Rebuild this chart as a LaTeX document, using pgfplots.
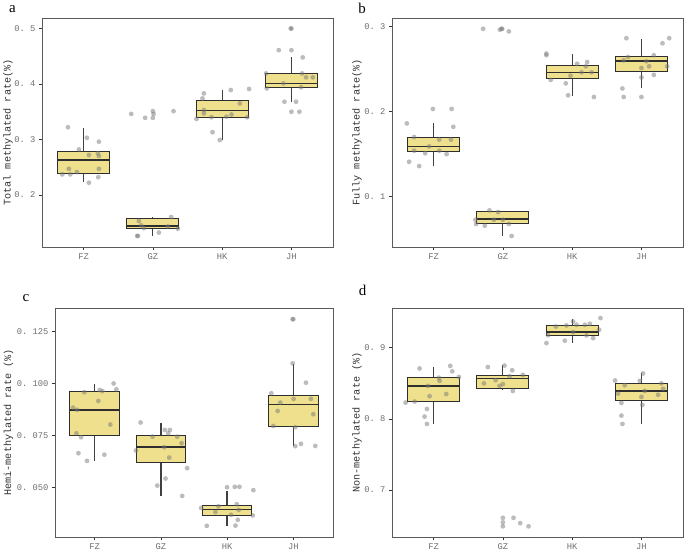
\documentclass[border=0pt]{standalone}
\usepackage{fontspec}
\setmainfont{Liberation Serif}
\setmonofont{Liberation Mono}
\usepackage{pgfplots}
\pgfplotsset{compat=1.18}
\usepgfplotslibrary{statistics}
\definecolor{boxfill}{HTML}{EEE08C}
\definecolor{ptcol}{HTML}{7A7A7A}
\definecolor{framecol}{HTML}{5A5A5A}
\definecolor{ticktext}{HTML}{6E6E6E}
\pgfplotsset{
  panel/.style={
    scale only axis, width=291bp, height=229bp, anchor=south west,
    xmin=0.4, xmax=4.6, xtick={1,2,3,4}, xticklabels={FZ,GZ,HK,JH},
    axis line style={framecol, line width=0.7pt},
    tick style={black!80, line width=0.7pt},
    tick align=outside, major tick length=3bp,
    xtick pos=left, ytick pos=left,
    ticklabel style={font=\ttfamily\fontsize{8.8}{10}\selectfont, text=ticktext},
    ylabel style={font=\ttfamily\fontsize{10.2}{12}\selectfont, text=black!80, anchor=center},
  },
  bx/.style={boxplot prepared={#1, draw direction=y, box extend=0.75, whisker extend=0,
      every median/.style={line width=1.6pt},
      every whisker/.style={line width=1.2pt, black!75}},
      draw=black!82, line width=1pt, fill=boxfill, solid},
  pts/.style={only marks, mark=*, mark size=2.4bp, color=ptcol,
      mark options={draw opacity=0, fill=ptcol, fill opacity=0.5}},
}
\begin{document}
\begin{tikzpicture}
\path[use as bounding box] (0,0) rectangle (685bp,554bp);
% ---------------- a
\begin{axis}[panel, at={(42bp,307bp)}, ymin=0.106, ymax=0.519,
  ytick={0.2,0.3,0.4,0.5}, yticklabels={0. 2,0. 3,0. 4,0. 5},
  ylabel={Total methylated rate(\%)},
  ylabel style={at={(axis description cs:-0.117,0.5)}}]
\addplot[bx={draw position=1, median=0.2625, upper quartile=0.279, lower quartile=0.239, upper whisker=0.321, lower whisker=0.224}] coordinates {};
\addplot[bx={draw position=2, median=0.144, upper quartile=0.158, lower quartile=0.139, upper whisker=0.160, lower whisker=0.125}] coordinates {};
\addplot[bx={draw position=3, median=0.352, upper quartile=0.370, lower quartile=0.3395, upper whisker=0.390, lower whisker=0.299}] coordinates {};
\addplot[bx={draw position=4, median=0.401, upper quartile=0.419, lower quartile=0.394, upper whisker=0.448, lower whisker=0.368}] coordinates {};
\addplot[pts] coordinates {
(0.774,0.322) (1.048,0.303) (0.933,0.282) (1.077,0.272) (1.221,0.296) (1.207,0.275) (1.221,0.270)
(0.692,0.237) (0.808,0.237) (0.788,0.247) (0.904,0.241) (1.077,0.222) (1.212,0.232) (1.221,0.247)
(1.688,0.346) (1.889,0.339) (2.0,0.351) (2.01,0.346) (2.0,0.339) (2.298,0.351)
(1.798,0.153) (1.832,0.145) (1.870,0.140) (2.087,0.132) (2.264,0.160) (2.361,0.139)
(1.774,0.126) (1.784,0.126) (2.216,0.143)
(2.736,0.383) (3.125,0.389) (3.389,0.391) (2.716,0.374) (2.736,0.347) (2.846,0.340) (2.630,0.337)
(2.861,0.313) (2.966,0.299) (3.135,0.345) (3.255,0.365) (3.361,0.340) (3.063,0.341) (2.736,0.353)
(4.0,0.5) (3.99,0.5) (3.817,0.461) (4.0,0.461) (4.163,0.448) (3.635,0.419) (4.154,0.419)
(4.212,0.412) (4.308,0.412) (3.885,0.401) (3.644,0.392) (4.139,0.394) (3.899,0.368) (4.067,0.368)
(4.0,0.350) (4.115,0.350)
};
\end{axis}
% ---------------- b
\begin{axis}[panel, at={(392bp,307bp)}, ymin=0.041, ymax=0.3097,
  ytick={0.1,0.2,0.3}, yticklabels={0. 1,0. 2,0. 3},
  ylabel={Fully methylated rate(\%)},
  ylabel style={at={(axis description cs:-0.120,0.5)}}]
\addplot[bx={draw position=1, median=0.1587, upper quartile=0.1697, lower quartile=0.1528, upper whisker=0.186, lower whisker=0.1364}] coordinates {};
\addplot[bx={draw position=2, median=0.0738, upper quartile=0.0828, lower quartile=0.0687, upper whisker=0.0828, lower whisker=0.0538}] coordinates {};
\addplot[bx={draw position=3, median=0.2456, upper quartile=0.254, lower quartile=0.2386, upper whisker=0.268, lower whisker=0.218}] coordinates {};
\addplot[bx={draw position=4, median=0.259, upper quartile=0.265, lower quartile=0.2468, upper whisker=0.285, lower whisker=0.227}] coordinates {};
\addplot[pts] coordinates {
(0.614,0.186) (0.990,0.203) (1.261,0.203) (1.285,0.182) (0.720,0.170) (1.082,0.167) (1.251,0.167)
(0.720,0.154) (0.879,0.151) (0.937,0.159) (1.082,0.154) (1.188,0.150) (0.647,0.141) (0.792,0.136)
(1.715,0.297) (1.957,0.296) (1.981,0.297) (1.99,0.297) (2.087,0.294)
(1.614,0.068) (1.739,0.066) (1.807,0.084) (1.932,0.082) (1.870,0.073) (2.0,0.073) (2.087,0.068)
(2.126,0.054) (1.604,0.073)
(2.628,0.268) (2.628,0.266) (2.691,0.237) (2.908,0.233) (2.942,0.219) (3.072,0.256) (3.217,0.258)
(3.198,0.253) (3.135,0.246) (3.280,0.246) (2.976,0.242) (3.314,0.217)
(3.783,0.286) (4.401,0.286) (4.304,0.280) (3.725,0.227) (3.744,0.217) (4.0,0.217) (4.0,0.240)
(4.0,0.251) (4.111,0.253) (4.179,0.266) (4.179,0.243) (4.072,0.259) (3.807,0.264) (3.744,0.260)
(4.372,0.253)
};
\end{axis}
% ---------------- c
\begin{axis}[panel, at={(55bp,17bp)}, width=278bp, ymin=0.026, ymax=0.1364,
  ytick={0.05,0.075,0.1,0.125}, yticklabels={0. 050,0. 075,0. 100,0. 125},
  ylabel={Hemi-methylated rate (\%)},
  ylabel style={at={(axis description cs:-0.167,0.5)}}]
\addplot[bx={draw position=1, median=0.0871, upper quartile=0.0961, lower quartile=0.0747, upper whisker=0.100, lower whisker=0.0627}] coordinates {};
\addplot[bx={draw position=2, median=0.0693, upper quartile=0.0751, lower quartile=0.0617, upper whisker=0.081, lower whisker=0.0458}] coordinates {};
\addplot[bx={draw position=3, median=0.0392, upper quartile=0.0413, lower quartile=0.0364, upper whisker=0.0482, lower whisker=0.0315}] coordinates {};
\addplot[bx={draw position=4, median=0.0898, upper quartile=0.094, lower quartile=0.0792, upper whisker=0.1094, lower whisker=0.0699}] coordinates {};
\addplot[pts] coordinates {
(0.673,0.0884) (0.734,0.0873) (0.724,0.0760) (0.794,0.0741) (0.844,0.0958) (1.055,0.0916) (1.075,0.0969)
(1.116,0.0963) (1.286,0.1000) (1.327,0.0972) (1.236,0.0802) (0.754,0.0664) (0.884,0.0627) (1.146,0.0657)
(1.693,0.0812) (1.623,0.0677) (1.874,0.0744) (2.060,0.0776) (2.136,0.0776) (2.111,0.0760) (2.246,0.0744)
(2.312,0.0712) (2.050,0.0693) (2.126,0.0643) (2.397,0.0592) (2.070,0.0542) (1.945,0.0508) (2.322,0.0458)
(3.0,0.0500) (3.116,0.0502) (3.186,0.0502) (3.397,0.0486) (2.608,0.0400) (2.869,0.0408) (2.824,0.0380)
(3.060,0.0367) (3.146,0.0418) (3.176,0.0391) (3.387,0.0364) (3.161,0.0343) (2.693,0.0314) (3.126,0.0315)
(4.0,0.131) (3.99,0.131) (3.99,0.1097) (4.191,0.1004) (3.668,0.0953) (3.804,0.0908) (3.764,0.0868)
(4.005,0.0926) (4.266,0.0926) (4.302,0.0852) (3.698,0.0795) (4.030,0.0789) (4.030,0.0698) (4.116,0.0709)
(4.332,0.0699)
};
\end{axis}
% ---------------- d
\begin{axis}[panel, at={(392bp,17bp)}, ymin=0.634, ymax=0.956,
  ytick={0.7,0.8,0.9}, yticklabels={0. 7,0. 8,0. 9},
  ylabel={Non-methylated rate (\%)},
  ylabel style={at={(axis description cs:-0.120,0.5)}}]
\addplot[bx={draw position=1, median=0.8465, upper quartile=0.858, lower quartile=0.824, upper whisker=0.8737, lower whisker=0.7934}] coordinates {};
\addplot[bx={draw position=2, median=0.8568, upper quartile=0.8606, lower quartile=0.8432, upper whisker=0.876, lower whisker=0.8408}] coordinates {};
\addplot[bx={draw position=3, median=0.922, upper quartile=0.931, lower quartile=0.9174, upper whisker=0.9404, lower whisker=0.9066}] coordinates {};
\addplot[bx={draw position=4, median=0.8394, upper quartile=0.8493, lower quartile=0.8263, upper whisker=0.8653, lower whisker=0.793}] coordinates {};
\addplot[pts] coordinates {
(0.798,0.871) (1.241,0.8746) (1.270,0.867) (1.077,0.858) (1.087,0.8535) (1.366,0.859) (0.918,0.8465)
(0.942,0.832) (1.183,0.835) (0.596,0.823) (0.726,0.8244) (0.904,0.814) (0.870,0.8033) (0.904,0.793)
(1.783,0.873) (2.024,0.875) (2.135,0.8685) (2.289,0.862) (1.726,0.850) (1.894,0.8545) (1.952,0.8465)
(2.096,0.860) (2.144,0.8394) (2.0,0.849)
(2.0,0.661) (2.154,0.661) (2.0,0.6545) (2.0,0.649) (2.250,0.6535) (2.371,0.649)
(2.629,0.9066) (2.894,0.910) (2.764,0.930) (2.918,0.9315) (3.063,0.9324) (3.183,0.9324) (3.255,0.9338)
(3.409,0.9418) (3.390,0.9254) (3.303,0.9136) (3.207,0.9174) (2.653,0.9178) (3.014,0.922) (3.014,0.937)
(3.620,0.854) (4.024,0.864) (3.976,0.8535) (4.289,0.850) (4.313,0.8423) (3.759,0.8474) (3.663,0.8357)
(3.711,0.8225) (4.048,0.8394) (4.0,0.831) (4.014,0.8197) (4.241,0.834) (3.711,0.8047) (3.726,0.793)
};
\end{axis}
% panel letters
\node[anchor=base, font=\fontsize{15}{18}\selectfont] at (12.5bp,541.3bp) {a};
\node[anchor=base, font=\fontsize{15}{18}\selectfont] at (362bp,540.7bp) {b};
\node[anchor=base, font=\fontsize{15}{18}\selectfont] at (26bp,252.3bp) {c};
\node[anchor=base, font=\fontsize{15}{18}\selectfont] at (362.5bp,258.3bp) {d};
\end{tikzpicture}
\end{document}
